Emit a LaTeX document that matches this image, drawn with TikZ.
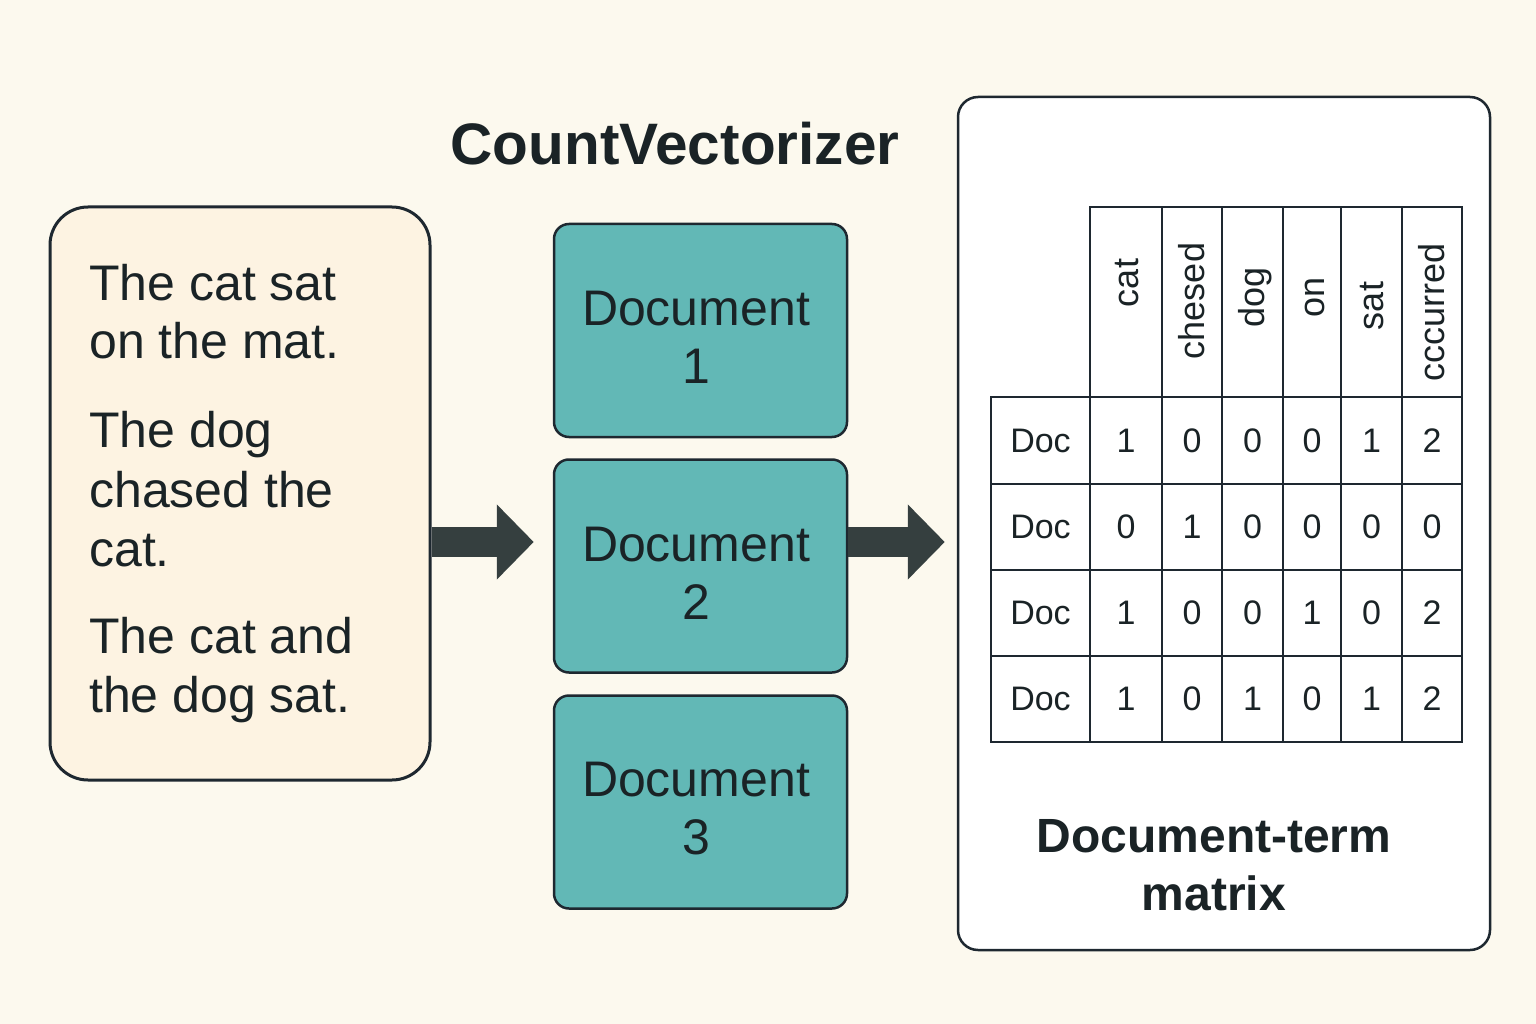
\documentclass[tikz,border=0pt]{standalone}
\usepackage{fontspec}
\setmainfont{Liberation Sans}
\usetikzlibrary{arrows.meta}
\definecolor{bg}{HTML}{FCF9EE}
\definecolor{leftfill}{HTML}{FDF3E2}
\definecolor{teal}{HTML}{62B8B6}
\definecolor{ink}{HTML}{1E2830}
\definecolor{arrowc}{HTML}{353F3F}
\definecolor{txt}{HTML}{1A2326}
\tikzset{
  bodytext/.style={anchor=base west, inner sep=0, text=txt, font=\fontsize{50}{59}\selectfont},
  docbox/.style={draw=ink, line width=2.5pt, fill=teal, rounded corners=15pt, minimum width=293pt, minimum height=213pt, inner sep=0, text=txt, font=\fontsize{50}{58}\selectfont},
  boxlabel/.style={align=center, inner sep=0, text=txt, font=\fontsize{50}{58}\selectfont},
  bigarrow/.style={draw=arrowc, line width=30pt, -{Triangle[length=37pt,width=73pt]}},
  cell/.style={draw=ink, line width=2.5pt, inner sep=0, text=txt, font=\fontsize{34}{40}\selectfont},
  hdr/.style={rotate=90, anchor=base, inner sep=0, text=txt, font=\fontsize{36}{40}\selectfont}
}
\begin{document}
\begin{tikzpicture}[x=1pt, y=-1pt]
\useasboundingbox (0,0) rectangle (1536,1024);
\fill[bg] (0,0) rectangle (1536,1024);

% left box
\node[draw=ink, line width=3pt, fill=leftfill, rounded corners=38pt, minimum width=380pt, minimum height=573pt, inner sep=0] (left) at (240,493.5) {};
\node[bodytext] (t1) at (89,300) {The cat sat};
\node[bodytext] (t2) at (89,358) {on the mat.};
\node[bodytext] (t3) at (89,447) {The dog};
\node[bodytext] (t4) at (89,507) {chased the};
\node[bodytext] (t5) at (89,566) {cat.};
\node[bodytext] (t6) at (89,653) {The cat and};
\node[bodytext] (t7) at (89,712) {the dog sat.};

% title
\node[anchor=base, inner sep=0, text=txt, font=\bfseries\fontsize{58.5}{64}\selectfont] (title) at (675,165) {CountVectorizer};

% document boxes
\node[docbox] (d1) at (700.5,330.5) {};
\node[docbox] (d2) at (700.5,566) {};
\node[docbox] (d3) at (700.5,802) {};
\node[boxlabel] (l1) at (696,337) {Document\\1};
\node[boxlabel] (l2) at (696,573) {Document\\2};
\node[boxlabel] (l3) at (696,809) {Document\\3};

% right box
\node[draw=ink, line width=2.5pt, fill=white, rounded corners=20pt, minimum width=532pt, minimum height=853pt, inner sep=0] (right) at (1224,523.5) {};

% arrows
\coordinate (ay) at (0,542);
\draw[bigarrow, shorten >=19pt] (left.east |- ay) -- (d2.west |- ay);
\draw[bigarrow, shorten >=12pt] (d2.east |- ay) -- (right.west |- ay);

% matrix header
\foreach \a/\b/\w/\cy [count=\i] in {1090/1162/cat/283, 1162/1222/chesed/301, 1222/1283/dog/297, 1283/1341/on/297, 1341/1402/sat/306, 1402/1462/cccurred/312} {
  \node[cell, minimum width={\b-\a}, minimum height=190pt] (h\i) at ({(\a+\b)/2},302) {};
  \node[hdr] (hl\i) at ({(\a+\b)/2+12},\cy) {\w};
}
% rows
\foreach \r/\ya/\yb/\vals in {1/397/484/{1,0,0,0,1,2}, 2/484/570/{0,1,0,0,0,0}, 3/570/656/{1,0,0,1,0,2}, 4/656/742/{1,0,1,0,1,2}} {
  \node[cell, minimum width=99pt, minimum height={\yb-\ya}] (r\r c0) at (1040.5,{(\ya+\yb)/2}) {Doc};
  \foreach \v [count=\j] in \vals {
    \pgfmathsetmacro{\xa}{{1090,1162,1222,1283,1341,1402}[\j-1]}
    \pgfmathsetmacro{\xb}{{1162,1222,1283,1341,1402,1462}[\j-1]}
    \node[cell, minimum width={\xb-\xa}, minimum height={\yb-\ya}] (r\r c\j) at ({(\xa+\xb)/2},{(\ya+\yb)/2}) {\v};
  }
}

% caption
\node[anchor=base, inner sep=0, text=txt, font=\bfseries\fontsize{48}{56}\selectfont] (cap1) at (1214,852) {Document-term};
\node[anchor=base, inner sep=0, text=txt, font=\bfseries\fontsize{48}{56}\selectfont] (cap2) at (1214,910) {matrix};
\end{tikzpicture}
\end{document}
